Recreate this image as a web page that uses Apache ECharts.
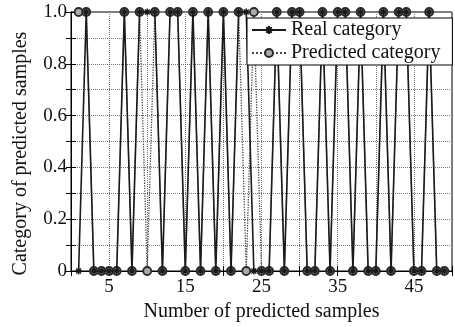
<!DOCTYPE html>
<html>
<head>
<meta charset="utf-8">
<script src="https://cdn.jsdelivr.net/npm/echarts@6/dist/echarts.min.js"></script>
<style>
  html, body { margin: 0; padding: 0; background: #fff; }
  #chart { width: 455px; height: 327px; }
</style>
</head>
<body>
<div id="chart"></div>
<script>
// sample numbers (x axis)
var samples = [1, 2, 3, 4, 5, 6, 7, 8, 9, 10, 11, 12, 13, 14, 15, 16, 17, 18, 19, 20,
  21, 22, 23, 24, 25, 26, 27, 28, 29, 30, 31, 32, 33, 34, 35, 36, 37, 38, 39, 40,
  41, 42, 43, 44, 45, 46, 47, 48, 49];
// real category of each sample
var realCat = [0, 1, 0, 0, 0, 0, 1, 0, 1, 1, 1, 0, 1, 1, 0, 1, 0, 1, 0, 1,
  0, 1, 1, 0, 0, 0, 1, 0, 1, 1, 0, 0, 1, 0, 1, 1, 0, 1, 0, 0,
  1, 0, 1, 1, 0, 0, 1, 0, 0];
// predicted category of each sample
var predCat = [1, 1, 0, 0, 0, 0, 1, 0, 1, 0, 1, 0, 1, 1, 0, 1, 0, 1, 0, 1,
  0, 1, 0, 1, 0, 0, 1, 0, 1, 1, 0, 0, 1, 0, 1, 1, 0, 1, 0, 0,
  1, 0, 1, 1, 0, 0, 1, 0, 0];
var xLabels = [5, 15, 25, 35, 45];
var yLabels = [0, 0.2, 0.4, 0.6, 0.8, 1.0];

var font = "'Liberation Serif', 'Times New Roman', serif";

function pairs(ys) {
  var out = [];
  for (var i = 0; i < samples.length; i++) out.push([samples[i], ys[i]]);
  return out;
}

var chart = echarts.init(document.getElementById("chart"));
var option = {
  animation: false,
  backgroundColor: "#fff",
  grid: {
    left: 71,
    right: 3,
    top: 12,
    bottom: 55,
    show: true,
    borderColor: "#000",
    borderWidth: 1,
  },
  legend: {
    orient: "vertical",
    left: 247,
    top: 18,
    right: 3,
    itemWidth: 34,
    itemHeight: 10,
    itemGap: 3,
    padding: [2, 12, 2, 4],
    backgroundColor: "#fff",
    borderColor: "#000",
    borderWidth: 1,
    textStyle: { fontFamily: font, fontSize: 20, color: "#111" },
    data: ["Real category", "Predicted category"],
  },
  xAxis: [
    {
      type: "value",
      min: 0,
      max: 50,
      interval: 5,
      name: "Number of predicted samples",
      nameLocation: "middle",
      nameGap: 31,
      nameTextStyle: { fontFamily: font, fontSize: 20, color: "#111" },
      axisLine: { lineStyle: { color: "#000", width: 1 } },
      axisTick: { inside: true, length: 5, lineStyle: { color: "#000" } },
      axisLabel: {
        margin: 7,
        fontFamily: font,
        fontSize: 19,
        color: "#111",
        formatter: function (v) {
          return xLabels.indexOf(v) >= 0 ? String(v) : "";
        },
      },
      splitLine: { show: true, lineStyle: { type: "dotted", color: "#777", width: 1 } },
    },
    {
      type: "value",
      position: "top",
      min: 0,
      max: 50,
      interval: 5,
      axisLine: { lineStyle: { color: "#000", width: 1 } },
      axisTick: { inside: true, length: 5, lineStyle: { color: "#000" } },
      axisLabel: { show: false },
      splitLine: { show: false },
    },
  ],
  yAxis: [
    {
      type: "value",
      min: 0,
      max: 1,
      interval: 0.1,
      name: "Category of predicted samples",
      nameLocation: "middle",
      nameRotate: 90,
      nameGap: 40,
      nameTextStyle: { fontFamily: font, fontSize: 20, color: "#111", padding: [0, 24, 0, 0] },
      axisLine: { show: true, lineStyle: { color: "#000", width: 1 } },
      axisTick: { show: true, inside: true, length: 5, lineStyle: { color: "#000" } },
      axisLabel: {
        margin: 4,
        fontFamily: font,
        fontSize: 19,
        color: "#111",
        formatter: function (v) {
          var r = Math.round(v * 10) / 10;
          for (var i = 0; i < yLabels.length; i++) {
            if (Math.abs(yLabels[i] - r) < 1e-6) return r === 0 ? "0" : r.toFixed(1);
          }
          return "";
        },
      },
      splitLine: { show: true, lineStyle: { type: "dotted", color: "#777", width: 1 } },
    },
    {
      type: "value",
      position: "right",
      min: 0,
      max: 1,
      interval: 0.1,
      axisLine: { show: true, lineStyle: { color: "#000", width: 1 } },
      axisTick: { show: true, inside: true, length: 5, lineStyle: { color: "#000" } },
      axisLabel: { show: false },
      splitLine: { show: false },
    },
  ],
  series: [
    {
      name: "Predicted category",
      type: "line",
      xAxisIndex: 0,
      yAxisIndex: 0,
      data: pairs(predCat),
      symbol: "circle",
      symbolSize: 8,
      showAllSymbol: true,
      lineStyle: { type: "dotted", color: "#444", width: 1.3 },
      itemStyle: { color: "#aaa", borderColor: "#2a2a2a", borderWidth: 1.8 },
      z: 2,
    },
    {
      name: "Real category",
      type: "line",
      xAxisIndex: 0,
      yAxisIndex: 0,
      data: pairs(realCat),
      symbol: "path://M0,5L10,5M5,0L5,10M1.5,1.5L8.5,8.5M8.5,1.5L1.5,8.5",
      symbolSize: 7,
      showAllSymbol: true,
      lineStyle: { type: "solid", color: "#1a1a1a", width: 1.6 },
      itemStyle: { color: "#1a1a1a", borderColor: "#1a1a1a", borderWidth: 1.4 },
      z: 3,
    },
  ],
};
chart.setOption(option);
</script>
</body>
</html>
